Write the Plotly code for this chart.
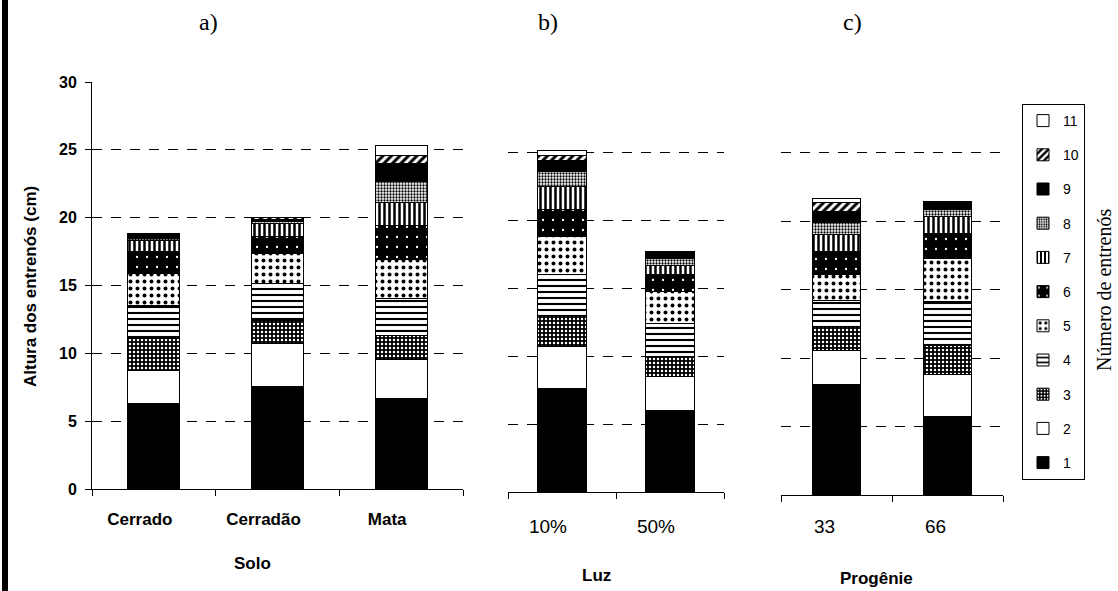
import plotly.graph_objects as go

W, H = 1118, 591

# ---------------- data (cm per internode, internode 1 -> 11) ----------------
internodes = ["1", "2", "3", "4", "5", "6", "7", "8", "9", "10", "11"]

solo_cats = ["Cerrado", "Cerradão", "Mata"]
cerrado = [6.31, 2.46, 2.33, 2.46, 2.34, 1.59, 0.86, 0.10, 0.30, 0.05, 0.05]
cerradao = [7.54, 3.20, 1.71, 2.71, 2.21, 1.23, 0.98, 0.16, 0.15, 0.10, 0.05]
mata = [6.68, 2.83, 1.84, 2.70, 2.83, 2.57, 1.65, 1.55, 1.35, 0.60, 0.70]

luz_cats = ["10%", "50%"]
luz10 = [7.64, 3.07, 2.33, 3.02, 2.75, 2.02, 1.67, 1.10, 0.87, 0.36, 0.32]
luz50 = [6.04, 2.51, 1.45, 2.45, 2.30, 1.30, 0.65, 0.50, 0.50, 0.0, 0.0]

prog_cats = ["33", "66"]
prog33 = [8.03, 2.55, 1.71, 1.94, 1.90, 1.63, 1.22, 0.90, 0.80, 0.66, 0.31]
prog66 = [5.72, 3.11, 2.05, 3.28, 3.11, 1.83, 1.22, 0.53, 0.56, 0.0, 0.0]

y_ticks = [0, 5, 10, 15, 20, 25, 30]

# ---------------- styles per internode ----------------
styles = [
    dict(color="black"),
    dict(color="white"),
    dict(color="black", pattern=dict(shape=".", fgcolor="white", bgcolor="black", size=4, solidity=0.3)),
    dict(color="white", pattern=dict(shape="-", fgcolor="black", bgcolor="white", size=6, solidity=0.35)),
    dict(color="white", pattern=dict(shape=".", fgcolor="black", bgcolor="white", size=7, solidity=0.25)),
    dict(color="black", pattern=dict(shape=".", fgcolor="white", bgcolor="black", size=10, solidity=0.04)),
    dict(color="white", pattern=dict(shape="|", fgcolor="black", bgcolor="white", size=5, solidity=0.5)),
    dict(color="white", pattern=dict(shape=".", fgcolor="black", bgcolor="white", size=3, solidity=0.45)),
    dict(color="black"),
    dict(color="white", pattern=dict(shape="/", fgcolor="black", bgcolor="white", size=6, solidity=0.5)),
    dict(color="white"),
]

fig = go.Figure()

panels = [
    ("x", "y", solo_cats, [cerrado, cerradao, mata], 0.42, True),
    ("x2", "y2", luz_cats, [luz10, luz50], 0.45, False),
    ("x3", "y3", prog_cats, [prog33, prog66], 0.43, False),
]

n = len(internodes)
for xa, ya, cats, series, bw, show in panels:
    for i, name in enumerate(internodes):
        vals = [s[i] for s in series]
        st = styles[i]
        marker = dict(color=st["color"], line=dict(color="black", width=1))
        if "pattern" in st:
            marker["pattern"] = st["pattern"]
        fig.add_trace(go.Bar(
            x=cats, y=vals, name=name, legendgroup=name, showlegend=show,
            legendrank=n - i,
            marker=marker, width=bw, xaxis=xa, yaxis=ya,
        ))

def px_x(p):
    return p / W

def px_y(p):
    return 1 - p / H

grid = dict(showgrid=True, gridcolor="black", gridwidth=1, griddash="10px,9px",
            range=[0, 30], tickvals=y_ticks, zeroline=False, fixedrange=True,
            automargin=False)

xcommon = dict(type="category", showline=True, linecolor="black", linewidth=1,
               ticks="outside", ticklen=6, tickcolor="black", tickson="boundaries",
               showgrid=False, automargin=False, fixedrange=True)

fig.update_layout(
    template="none",
    width=W, height=H, margin=dict(l=0, r=0, t=0, b=0, pad=0, autoexpand=False),
    paper_bgcolor="white", plot_bgcolor="rgba(0,0,0,0)",
    barmode="stack",
    font=dict(family="Liberation Sans, Arial", color="black"),
    xaxis=dict(domain=[px_x(92), px_x(463)], anchor="y",
               tickfont=dict(size=17, weight="bold"), ticklabelstandoff=15, ticklabelshift=-14,
               **xcommon),
    yaxis=dict(domain=[px_y(489), px_y(82)], anchor="x", showline=True, linecolor="black",
               ticks="outside", ticklen=6, tickcolor="black",
               tickfont=dict(size=16, weight="bold"), ticklabelstandoff=5, **grid),
    xaxis2=dict(domain=[px_x(508), px_x(724)], anchor="y2",
                tickfont=dict(size=19), ticklabelstandoff=17, ticklabelshift=-14,
                **xcommon),
    yaxis2=dict(domain=[px_y(492), px_y(85)], anchor="x2", showline=False,
                showticklabels=False, ticks="", **grid),
    xaxis3=dict(domain=[px_x(781), px_x(1003)], anchor="y3",
                tickfont=dict(size=19), ticklabelstandoff=14, ticklabelshift=-12,
                **xcommon),
    yaxis3=dict(domain=[px_y(495), px_y(84)], anchor="x3", showline=False,
                showticklabels=False, ticks="", **grid),
    legend=dict(x=px_x(1022), y=px_y(104), xanchor="left", yanchor="top",
                bordercolor="black", borderwidth=1, bgcolor="white",
                traceorder="grouped", tracegroupgap=13,
                font=dict(size=14), itemwidth=30),
)

annotations = [
    dict(text="a)", x=px_x(208), y=px_y(22), font=dict(family="Liberation Serif", size=24)),
    dict(text="b)", x=px_x(548), y=px_y(22), font=dict(family="Liberation Serif", size=24)),
    dict(text="c)", x=px_x(853), y=px_y(22), font=dict(family="Liberation Serif", size=24)),
    dict(text="Solo", x=px_x(252), y=px_y(563), font=dict(size=17, weight="bold")),
    dict(text="Luz", x=px_x(596), y=px_y(575), font=dict(size=17, weight="bold")),
    dict(text="Progênie", x=px_x(876), y=px_y(578), font=dict(size=17, weight="bold")),
    dict(text="Altura dos entrenós (cm)", x=px_x(31), y=px_y(287), textangle=-90,
         font=dict(size=17, weight="bold")),
    dict(text="Número de entrenós", x=px_x(1104), y=px_y(290), textangle=-90,
         font=dict(family="Liberation Serif", size=20)),
]
for a in annotations:
    a.update(xref="paper", yref="paper", showarrow=False, xanchor="center", yanchor="middle")
fig.update_layout(annotations=annotations)

fig.add_shape(type="rect", xref="paper", yref="paper", x0=px_x(2), x1=px_x(8), y0=0, y1=1,
              fillcolor="black", line=dict(width=0))

fig.write_html("out.html")
